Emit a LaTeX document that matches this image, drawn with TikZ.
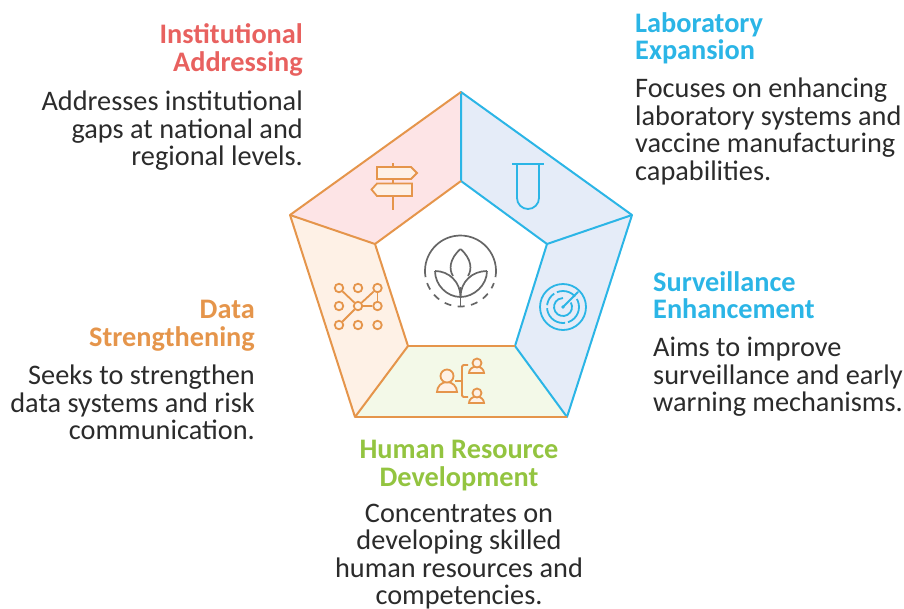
\documentclass[tikz,border=0pt]{standalone}
\usepackage{fontspec}
\setmainfont{Carlito}
\definecolor{redtitle}{HTML}{E8615F}
\definecolor{bluetitle}{HTML}{2BB5E6}
\definecolor{orangetitle}{HTML}{E5954B}
\definecolor{greentitle}{HTML}{93C440}
\definecolor{bodytext}{HTML}{2B2B2B}
\definecolor{iconline}{HTML}{666666}
\definecolor{pinkfill}{HTML}{FDE4E6}
\definecolor{bluefill}{HTML}{E5ECF8}
\definecolor{creamfill}{HTML}{FEF1E6}
\definecolor{greenfill}{HTML}{F3F9E8}
\tikzset{
    title/.style={font=\fontsize{28.3}{27.5}\selectfont\bfseries, inner sep=0pt},
    body/.style={font=\fontsize{28.3}{27.5}\selectfont, text=bodytext, inner sep=0pt},
    orangeline/.style={draw=orangetitle, line width=2pt, line join=round},
    blueline/.style={draw=bluetitle, line width=2pt, line join=round},
    orangeicon/.style={draw=orangetitle, line width=1.8pt},
    blueicon/.style={draw=bluetitle, line width=1.8pt},
    plantline/.style={draw=iconline, line width=1.7pt},
    hub/.style={circle, orangeicon, fill=creamfill, minimum size=8.5pt, inner sep=0pt},
}
\begin{document}
\begin{tikzpicture}[x=1pt, y=-1pt]
    \useasboundingbox (0,0) rectangle (904,608);
    % pentagon corners
    \coordinate (outertop) at (461,92);
    \coordinate (outerright) at (632,215);
    \coordinate (outerlow) at (567,417);
    \coordinate (outerleft) at (355,417);
    \coordinate (outerside) at (290,215);
    \coordinate (innertop) at (461,181);
    \coordinate (innerright) at (547,244);
    \coordinate (innerlow) at (515,346);
    \coordinate (innerleft) at (408,346);
    \coordinate (innerside) at (375,244);
    % panels
    \fill[pinkfill] (outerside) -- (outertop) -- (innertop) -- (innerside) -- cycle;
    \fill[bluefill] (outertop) -- (outerright) -- (innerright) -- (innertop) -- cycle;
    \fill[bluefill] (outerright) -- (outerlow) -- (innerlow) -- (innerright) -- cycle;
    \fill[greenfill] (outerlow) -- (outerleft) -- (innerleft) -- (innerlow) -- cycle;
    \fill[creamfill] (outerleft) -- (outerside) -- (innerside) -- (innerleft) -- cycle;
    \draw[blueline] (innertop) -- (outertop) -- (outerright) -- (outerlow) -- (innerlow) -- (innerright) -- (innertop);
    \draw[blueline] (innerright) -- (outerright);
    \draw[orangeline] (outertop) -- (outerside) -- (outerleft) -- (innerleft) -- (innerside) -- (innertop);
    \draw[orangeline] (outerside) -- (innerside);
    \draw[orangeline] (innerlow) -- (innerleft);
    \draw[orangeline] (outerleft) -- (outerlow);
    % signpost
    \draw[orangeicon] (393,163) -- (393,210);
    \draw[orangeicon, fill=creamfill] (377,167) -- (411,167) -- (417,173) -- (411,179) -- (377,179) -- cycle;
    \draw[orangeicon, fill=creamfill] (412,183.5) -- (377,183.5) -- (371.5,189.5) -- (377,196) -- (412,196) -- cycle;
    % test tube
    \draw[blueicon] (512,164) -- (544,164);
    \draw[blueicon] (517,164) -- (517,198) arc[start angle=180, end angle=0, radius=11] -- (539,164);
    % radar
    \draw[blueicon] (563,307) circle[radius=23];
    \draw[blueicon, dash pattern=on 20pt off 3pt on 26pt off 3pt on 14pt off 3pt] (563,307) circle[radius=16];
    \draw[blueicon] (563,307) ++(-30:9) arc[start angle=-30, end angle=270, radius=9];
    \draw[blueicon, line cap=round] (563,307) -- (578,292);
    \fill[bluetitle] (563,307) circle[radius=1.8];
    % network
    \node[hub] (dotnw) at (339,288) {};
    \node[hub] (dotn) at (358,288) {};
    \node[hub] (dotne) at (377.5,288) {};
    \node[hub] (dotw) at (339,306) {};
    \node[hub] (dotc) at (358,306) {};
    \node[hub] (dote) at (377.5,306) {};
    \node[hub] (dotsw) at (339,325) {};
    \node[hub] (dots) at (358,325) {};
    \node[hub] (dotse) at (377.5,325) {};
    \draw[orangeicon] (dotnw) -- (dotc);
    \draw[orangeicon] (dotsw) -- (dotc);
    \draw[orangeicon] (dotne) -- (dotc);
    \draw[orangeicon] (dote) -- (dotc);
    \draw[orangeicon] (dotne) -- (dote);
    % people
    \draw[orangeicon, fill=creamfill] (437,392) arc[start angle=180, end angle=360, radius=10] -- cycle;
    \draw[orangeicon, fill=creamfill] (447,376) circle[radius=6.5];
    \draw[orangeicon, fill=creamfill] (469,373) arc[start angle=180, end angle=360, x radius=7.5, y radius=6.5] -- cycle;
    \draw[orangeicon, fill=creamfill] (477,363) circle[radius=4.5];
    \draw[orangeicon, fill=creamfill] (469,403) arc[start angle=180, end angle=360, x radius=7.5, y radius=6.5] -- cycle;
    \draw[orangeicon, fill=creamfill] (477,393) circle[radius=4.5];
    \draw[orangeicon, rounded corners=1.5pt] (468,365) -- (462,365) -- (462,397) -- (468,397);
    \draw[orangeicon] (455,381) -- (462,381);
    % plant
    \draw[plantline] (460.5,271) ++(170:35.5) arc[start angle=170, end angle=370, radius=35.5];
    \draw[plantline, dash pattern=on 7pt off 6.5pt] (460.5,271) ++(160:35.5) arc[start angle=160, end angle=20, radius=35.5];
    \draw[plantline] (460.5,306) -- (460.5,287);
    \draw[plantline] (460.5,249) .. controls (449,259) and (449,270) .. (453,276);
    \draw[plantline] (460.5,249) .. controls (472,259) and (472,270) .. (468,276);
    \draw[plantline] (435,271) .. controls (449,271) and (460.5,282) .. (460.5,297);
    \draw[plantline] (435,271) .. controls (435,285) and (447,297) .. (460.5,297);
    \draw[plantline] (487,271) .. controls (472,271) and (460.5,282) .. (460.5,297);
    \draw[plantline] (487,271) .. controls (487,285) and (474,297) .. (460.5,297);
    % labels
    \node[title, text=redtitle, anchor=north east, align=right] (insttitle) at (303,23.5) {Institutional\\Addressing};
    \node[body, anchor=north east, align=right] (insttext) at (303,91) {Addresses institutional\\gaps at national and\\regional levels.};
    \node[title, text=bluetitle, anchor=north west, align=left] (labtitle) at (635,12) {Laboratory\\Expansion};
    \node[body, anchor=north west, align=left] (labtext) at (635,78) {Focuses on enhancing\\laboratory systems and\\vaccine manufacturing\\capabilities.};
    \node[title, text=bluetitle, anchor=north west, align=left] (survtitle) at (653,271) {Surveillance\\Enhancement};
    \node[body, anchor=north west, align=left] (survtext) at (653,337) {Aims to improve\\surveillance and early\\warning mechanisms.};
    \node[title, text=orangetitle, anchor=north east, align=right] (datatitle) at (255,300) {Data\\Strengthening};
    \node[body, anchor=north east, align=right] (datatext) at (255,365) {Seeks to strengthen\\data systems and risk\\communication.};
    \node[title, text=greentitle, anchor=north, align=center] (hrtitle) at (459,440) {Human Resource\\Development};
    \node[body, anchor=north, align=center] (hrtext) at (459,503.5) {Concentrates on\\developing skilled\\human resources and\\competencies.};
\end{tikzpicture}
\end{document}
